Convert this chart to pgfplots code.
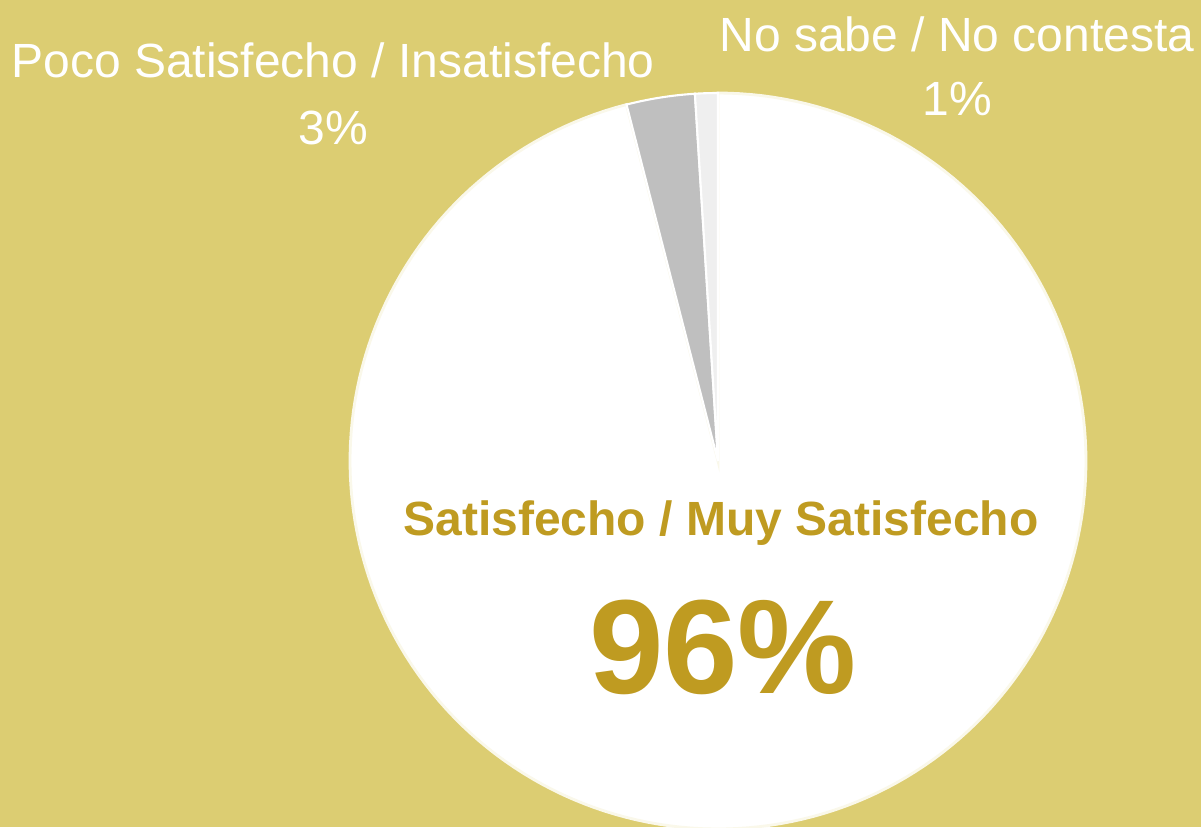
\documentclass[border=0pt]{standalone}
\usepackage{pgfplots}
\pgfplotsset{compat=1.18}
\usepackage{fontspec}
\setmainfont{Liberation Sans}
\definecolor{bg}{HTML}{DCCD72}
\definecolor{gold}{HTML}{BF9B21}
\definecolor{slicegray}{HTML}{BFBFBF}
\definecolor{slicelight}{HTML}{EFEFEF}
% shares (percent), clockwise from the top
\def\vA{96}% Satisfecho / Muy Satisfecho
\def\vB{3}%  Poco Satisfecho / Insatisfecho
\def\vC{1}%  No sabe / No contesta
\begin{document}
\begin{tikzpicture}
\pgfmathsetmacro{\aA}{90-3.6*\vA}
\pgfmathsetmacro{\aB}{\aA-3.6*\vB}
\pgfmathsetmacro{\aC}{\aB-3.6*\vC}
\begin{axis}[
  width=12.01cm, height=8.27cm, scale only axis,
  xmin=0, xmax=1201, ymin=0, ymax=827,
  hide axis, clip=true,
]
\addplot[fill=bg, draw=none] coordinates {(0,0) (1201,0) (1201,827) (0,827)} -- cycle;
% pie: centre (718,366), radius 368
\addplot[fill=white, draw=white!85!bg, line width=0.8pt, domain=\aA:90, samples=200, variable=\t]
  ({718+368*cos(\t)},{366+368*sin(\t)}) -- (axis cs:718,366) -- cycle;
\addplot[fill=slicegray, draw=white, line width=0.6pt, domain=\aB:\aA, samples=20, variable=\t]
  ({718+368*cos(\t)},{366+368*sin(\t)}) -- (axis cs:718,366) -- cycle;
\addplot[fill=slicelight, draw=white, line width=0.6pt, domain=\aC:\aB, samples=10, variable=\t]
  ({718+368*cos(\t)},{366+368*sin(\t)}) -- (axis cs:718,366) -- cycle;
\node[anchor=base, inner sep=0, text=white, font=\fontsize{13.66pt}{16pt}\selectfont] at (axis cs:333,749) {Poco Satisfecho / Insatisfecho};
\node[anchor=base, inner sep=0, text=white, font=\fontsize{13.66pt}{16pt}\selectfont] at (axis cs:333,682) {3\%};
\node[anchor=base, inner sep=0, text=white, font=\fontsize{13.66pt}{16pt}\selectfont] at (axis cs:957,775) {No sabe / No contesta};
\node[anchor=base, inner sep=0, text=white, font=\fontsize{13.66pt}{16pt}\selectfont] at (axis cs:957,711) {1\%};
\node[anchor=base, inner sep=0, text=gold, font=\fontsize{13.66pt}{16pt}\selectfont\bfseries] at (axis cs:721,292) {Satisfecho / Muy Satisfecho};
\node[anchor=base, inner sep=0, text=gold, font=\fontsize{38.1pt}{44pt}\selectfont\bfseries] at (axis cs:723,134) {96\%};
\end{axis}
\end{tikzpicture}
\end{document}
